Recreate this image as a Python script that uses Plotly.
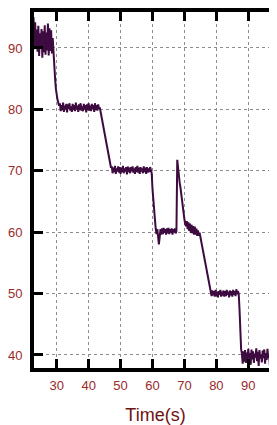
import plotly.graph_objects as go

# time stamps (s)
time_s = [22.25, 22.5, 22.75,
          23.0, 23.25, 23.5, 23.75, 24.0, 24.25, 24.5, 24.75,
          25.0, 25.25, 25.5, 25.75, 26.0, 26.25, 26.5, 26.75,
          27.0, 27.25, 27.5, 27.75, 28.0, 28.25, 28.5, 28.75,
          29.0, 29.25, 29.5, 29.75, 30.0, 30.25, 30.5, 30.75,
          31.0, 31.25, 31.5, 31.75, 32.0, 32.25, 32.5, 32.75,
          33.0, 33.25, 33.5, 33.75, 34.0, 34.25, 34.5, 34.75,
          35.0, 35.25, 35.5, 35.75, 36.0, 36.25, 36.5, 36.75,
          37.0, 37.25, 37.5, 37.75, 38.0, 38.25, 38.5, 38.75,
          39.0, 39.25, 39.5, 39.75, 40.0, 40.25, 40.5, 40.75,
          41.0, 41.25, 41.5, 41.75, 42.0, 42.25, 42.5, 42.75,
          43.0, 43.25, 43.5, 43.75, 44.0, 44.25, 44.5, 44.75,
          45.0, 45.25, 45.5, 45.75, 46.0, 46.25, 46.5, 46.75,
          47.0, 47.25, 47.5, 47.75, 48.0, 48.25, 48.5, 48.75,
          49.0, 49.25, 49.5, 49.75, 50.0, 50.25, 50.5, 50.75,
          51.0, 51.25, 51.5, 51.75, 52.0, 52.25, 52.5, 52.75,
          53.0, 53.25, 53.5, 53.75, 54.0, 54.25, 54.5, 54.75,
          55.0, 55.25, 55.5, 55.75, 56.0, 56.25, 56.5, 56.75,
          57.0, 57.25, 57.5, 57.75, 58.0, 58.25, 58.5, 58.75,
          59.0, 59.25, 59.5, 59.75, 60.0, 60.25, 60.5, 60.75,
          61.0, 61.25, 61.5, 61.75, 62.0, 62.25, 62.5, 62.75,
          63.0, 63.25, 63.5, 63.75, 64.0, 64.25, 64.5, 64.75,
          65.0, 65.25, 65.5, 65.75, 66.0, 66.25, 66.5, 66.75,
          67.0, 67.25, 67.5, 67.75, 68.0, 68.25, 68.5, 68.75,
          69.0, 69.25, 69.5, 69.75, 70.0, 70.25, 70.5, 70.75,
          71.0, 71.25, 71.5, 71.75, 72.0, 72.25, 72.5, 72.75,
          73.0, 73.25, 73.5, 73.75, 74.0, 74.25, 74.5, 74.75,
          75.0, 75.25, 75.5, 75.75, 76.0, 76.25, 76.5, 76.75,
          77.0, 77.25, 77.5, 77.75, 78.0, 78.25, 78.5, 78.75,
          79.0, 79.25, 79.5, 79.75, 80.0, 80.25, 80.5, 80.75,
          81.0, 81.25, 81.5, 81.75, 82.0, 82.25, 82.5, 82.75,
          83.0, 83.25, 83.5, 83.75, 84.0, 84.25, 84.5, 84.75,
          85.0, 85.25, 85.5, 85.75, 86.0, 86.25, 86.5, 86.75,
          87.0, 87.25, 87.5, 87.75, 88.0, 88.25, 88.5, 88.75,
          89.0, 89.25, 89.5, 89.75, 90.0, 90.25, 90.5, 90.75,
          91.0, 91.25, 91.5, 91.75, 92.0, 92.25, 92.5, 92.75,
          93.0, 93.25, 93.5, 93.75, 94.0, 94.25, 94.5, 94.75,
          95.0, 95.25, 95.5, 95.75, 96.0, 96.25, 96.5, 96.75,
          97.0, 97.25, 97.5, 97.75, 98.0, 98.25, 98.5, 98.75,
          99.0]

signal = [96.2, 90.8, 95.0,
          89.8, 94.2, 90.3, 93.0, 89.4, 93.6, 88.7, 92.4,
          89.9, 93.1, 88.4, 92.7, 89.3, 93.7, 88.9, 92.5,
          89.6, 94.0, 88.8, 93.2, 89.5, 92.9, 89.1, 91.6,
          88.4, 87.4, 85.0, 83.3, 82.2, 81.6, 81.1, 80.6,
          81.0, 79.7, 80.7, 79.9, 81.1, 79.6, 80.6, 80.0,
          80.9, 79.5, 80.8, 80.1, 81.0, 79.8, 80.5, 79.6,
          80.9, 79.9, 80.7, 79.7, 81.1, 80.0, 80.6, 79.6,
          80.8, 79.9, 81.0, 79.8, 80.5, 79.7, 80.9, 80.0,
          80.7, 79.5, 80.8, 79.9, 81.0, 79.8, 80.6, 79.7,
          80.9, 80.0, 80.7, 79.6, 81.0, 79.9, 80.7, 79.8,
          80.8, 80.1, 80.3, 79.6, 79.0, 78.3, 77.6, 76.9,
          76.2, 75.4, 74.6, 73.8, 73.0, 72.2, 71.4, 70.8,
          70.5, 70.7, 69.6, 70.5, 69.8, 70.8, 69.5, 70.4,
          69.9, 70.7, 69.7, 70.6, 69.5, 70.5, 69.8, 70.8,
          69.6, 70.4, 69.9, 70.6, 69.4, 70.7, 69.8, 70.5,
          69.6, 70.6, 69.9, 70.7, 69.7, 70.4, 69.5, 70.6,
          69.8, 70.8, 69.7, 70.5, 69.5, 70.6, 69.9, 70.4,
          69.6, 70.7, 69.8, 70.5, 69.5, 70.6, 69.7, 70.4,
          69.8, 70.6, 70.0, 69.6, 67.0, 65.0, 63.0, 61.5,
          60.6, 59.7, 60.5, 59.3, 58.0, 59.2, 60.5, 59.6,
          60.6, 59.7, 60.7, 59.9, 60.5, 59.6, 60.6, 59.8,
          60.7, 59.7, 60.5, 59.9, 60.6, 59.6, 60.5, 60.0,
          60.6, 59.8, 60.2, 71.8, 70.2, 69.4, 68.1, 67.3,
          66.1, 65.2, 63.9, 63.1, 62.1, 61.3, 61.0, 61.8,
          60.5, 61.6, 60.2, 61.4, 59.9, 61.2, 59.8, 61.0,
          59.6, 60.9, 59.6, 60.6, 59.4, 60.3, 59.4, 59.9,
          59.2, 58.8, 58.2, 57.5, 56.7, 55.9, 55.1, 54.3,
          53.5, 52.8, 52.0, 51.3, 50.6, 50.2, 49.6, 50.5,
          49.7, 50.4, 49.5, 50.6, 49.6, 50.3, 49.4, 50.4,
          49.8, 50.6, 49.5, 50.3, 49.7, 50.5, 49.5, 50.4,
          49.6, 50.6, 49.8, 50.3, 49.4, 50.5, 49.7, 50.4,
          49.5, 50.6, 49.8, 50.4, 49.6, 50.7, 49.9, 50.4,
          50.0, 47.5, 43.5, 41.0, 40.2, 38.6, 40.6, 38.9,
          40.8, 38.7, 40.4, 39.2, 41.0, 39.4, 40.3, 38.4,
          40.9, 39.3, 40.6, 38.7, 40.2, 39.6, 41.1, 39.0,
          40.5, 38.2, 40.8, 39.4, 40.1, 38.8, 40.7, 39.5,
          40.9, 38.6, 40.3, 39.2, 41.0, 39.5, 40.2, 38.3,
          40.6, 39.4, 40.8, 38.9, 40.3, 39.6, 41.0, 39.1,
          40.4]

x_ticks = [30, 40, 50, 60, 70, 80, 90]
y_ticks = [40, 50, 60, 70, 80, 90]
x_range = [22.89, 98.99]
y_range = [37.88, 95.86]

tick_color = "#9a2a2a"
title_color = "#6e1212"
font_family = "Liberation Sans, Arial"

fig = go.Figure()
fig.add_trace(go.Scatter(x=time_s, y=signal, mode="lines",
                         line=dict(color="#3d0b3f", width=2), showlegend=False))

grid = dict(showgrid=True, gridcolor="#8c8c8c", griddash="dot", gridwidth=1, zeroline=False)

fig.update_layout(
    # the page body has an 8 px margin, so the figure is 8 px smaller than the window
    width=269, height=417,
    margin=dict(l=26, r=0, t=4, b=57, autoexpand=False),
    paper_bgcolor="white", plot_bgcolor="white",
    xaxis=dict(range=x_range, tickvals=x_ticks, ticks="inside", ticklen=9, tickwidth=3,
               tickcolor="black", showline=True, linecolor="black", linewidth=4,
               mirror="ticks", **grid,
               tickfont=dict(family=font_family, size=13, color=tick_color),
               ticklabelstandoff=2,
               title=dict(text="Time(s)", font=dict(family=font_family, size=18,
                                                   color=title_color), standoff=18)),
    yaxis=dict(range=y_range, tickvals=y_ticks, ticks="inside", ticklen=9, tickwidth=3,
               tickcolor="black", showline=True, linecolor="black", linewidth=4,
               mirror=False, **grid,
               tickfont=dict(family=font_family, size=13, color=tick_color),
               ticklabelstandoff=5),
    yaxis2=dict(range=y_range, tickvals=y_ticks, overlaying="y", side="right",
                ticks="inside", ticklen=9, tickwidth=3, tickcolor="black",
                showline=False, showgrid=False, zeroline=False, showticklabels=False),
)

fig.write_html("out.html")
